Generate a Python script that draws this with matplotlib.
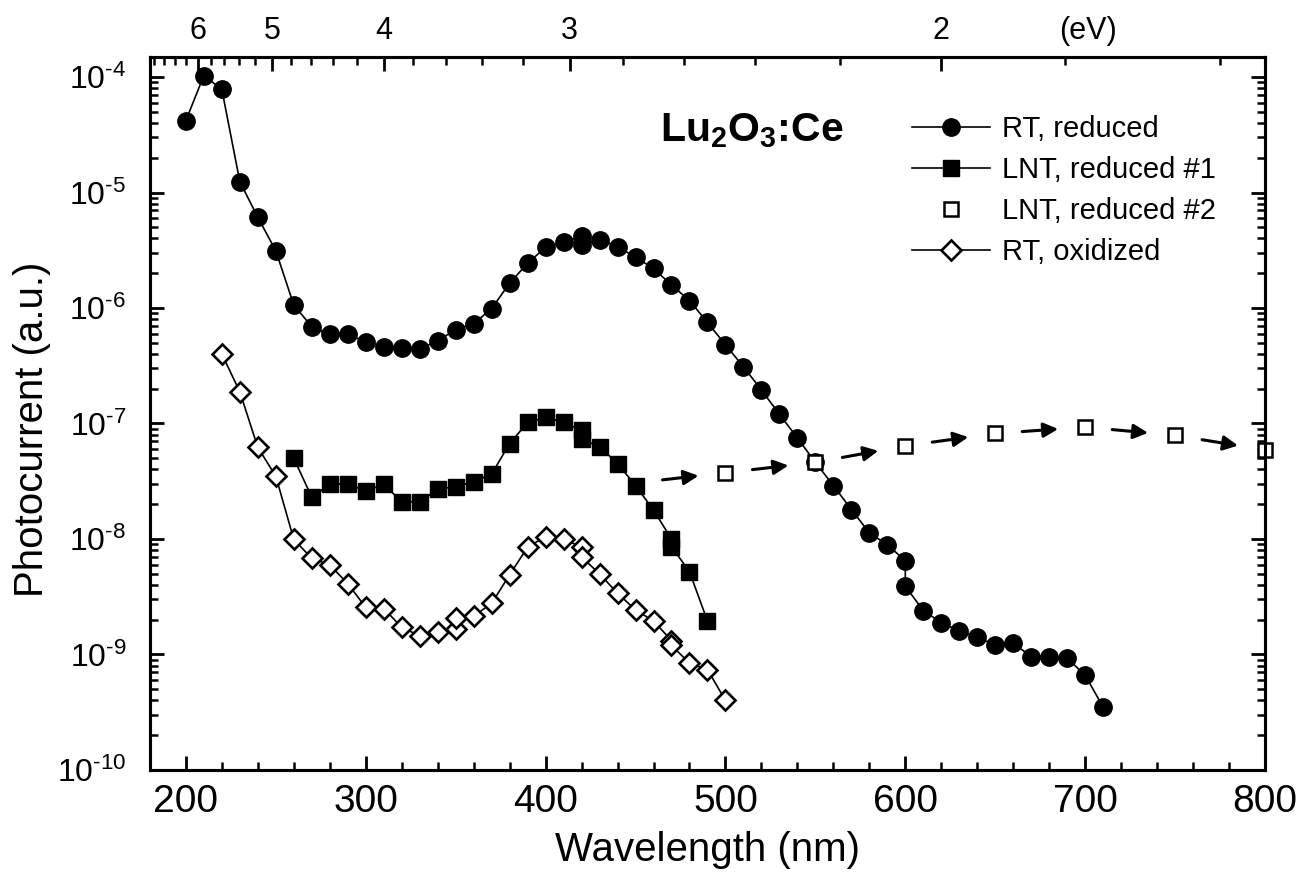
import numpy as np
import matplotlib
matplotlib.use("Agg")
import matplotlib.pyplot as plt
from matplotlib.ticker import FixedLocator, LogLocator, NullFormatter

plt.rcParams['font.family'] = ['Liberation Sans', 'DejaVu Sans']
plt.rcParams['mathtext.fontset'] = 'custom'
plt.rcParams['mathtext.rm'] = 'Liberation Sans'
plt.rcParams['mathtext.it'] = 'Liberation Sans:italic'
plt.rcParams['mathtext.bf'] = 'Liberation Sans:bold'

# RT, reduced (filled circles)
rt_red_wl = [200, 210, 220, 230, 240, 250, 260, 270, 280, 290, 300, 310, 320, 330,
             340, 350, 360, 370, 380, 390, 400, 410, 420, 420, 430, 440, 450, 460,
             470, 480, 490, 500, 510, 520, 530, 540, 550, 560, 570, 580, 590, 600,
             600, 610, 620, 630, 640, 650, 660, 670, 680, 690, 700, 710]
rt_red = [4.2e-5, 1.03e-4, 7.8e-5, 1.24e-5, 6.1e-6, 3.13e-6, 1.06e-6, 6.9e-7, 5.9e-7,
          5.9e-7, 5.1e-7, 4.6e-7, 4.5e-7, 4.4e-7, 5.2e-7, 6.5e-7, 7.3e-7, 9.9e-7,
          1.64e-6, 2.44e-6, 3.35e-6, 3.7e-6, 4.2e-6, 3.5e-6, 3.9e-6, 3.4e-6, 2.75e-6,
          2.2e-6, 1.58e-6, 1.16e-6, 7.5e-7, 4.8e-7, 3.1e-7, 1.95e-7, 1.2e-7, 7.5e-8,
          4.6e-8, 2.9e-8, 1.8e-8, 1.13e-8, 8.9e-9, 6.5e-9, 3.9e-9, 2.4e-9, 1.89e-9,
          1.6e-9, 1.41e-9, 1.21e-9, 1.25e-9, 9.6e-10, 9.6e-10, 9.3e-10, 6.6e-10, 3.5e-10]

# LNT, reduced #1 (filled squares)
lnt1_wl = [260, 270, 280, 290, 300, 310, 320, 330, 340, 350, 360, 370, 380, 390, 400,
           410, 420, 420, 430, 440, 450, 460, 470, 470, 480, 490]
lnt1 = [5.0e-8, 2.3e-8, 2.97e-8, 3.0e-8, 2.6e-8, 2.97e-8, 2.1e-8, 2.1e-8, 2.7e-8,
        2.84e-8, 3.13e-8, 3.65e-8, 6.7e-8, 1.02e-7, 1.13e-7, 1.02e-7, 8.7e-8, 7.3e-8,
        6.3e-8, 4.5e-8, 2.9e-8, 1.78e-8, 1.0e-8, 8.6e-9, 5.2e-9, 1.95e-9]

# LNT, reduced #2 (open squares)
lnt2_wl = [500, 550, 600, 650, 700, 750, 800]
lnt2 = [3.75e-8, 4.6e-8, 6.4e-8, 8.2e-8, 9.3e-8, 7.9e-8, 5.9e-8]

# RT, oxidized (open diamonds)
ox_wl = [220, 230, 240, 250, 260, 270, 280, 290, 300, 310, 320, 330, 340, 350, 350,
         360, 370, 380, 390, 400, 410, 420, 420, 430, 440, 450, 460, 470, 470, 480,
         490, 500]
ox = [4.0e-7, 1.88e-7, 6.2e-8, 3.5e-8, 9.9e-9, 6.8e-9, 5.96e-9, 4.1e-9, 2.56e-9,
      2.5e-9, 1.72e-9, 1.45e-9, 1.58e-9, 1.65e-9, 2.06e-9, 2.15e-9, 2.77e-9, 4.9e-9,
      8.5e-9, 1.05e-8, 1.0e-8, 8.5e-9, 7.0e-9, 4.98e-9, 3.39e-9, 2.43e-9, 1.95e-9,
      1.32e-9, 1.2e-9, 8.4e-10, 7.4e-10, 4.0e-10]

ev_major = [6, 5, 4, 3, 2]
ev_minor = [6.8, 6.6, 6.4, 6.2, 5.8, 5.6, 5.4, 5.2, 4.8, 4.6, 4.4, 4.2, 3.8, 3.6,
            3.4, 3.2, 2.8, 2.6, 2.4, 2.2, 1.8, 1.6]
y_exps = [10, 9, 8, 7, 6, 5, 4]

fig = plt.figure(figsize=(13.15, 8.84), dpi=100)
ax = fig.add_axes([0.114, 0.129, 0.848, 0.8065])

ax.plot(rt_red_wl, rt_red, '-o', color='k', lw=1.2, ms=12.5, label='RT, reduced')
ax.plot(lnt1_wl, lnt1, '-s', color='k', lw=1.2, ms=11, label='LNT, reduced #1')
ax.plot(lnt2_wl, lnt2, 's', color='k', mfc='white', ms=10, mew=1.8,
        label='LNT, reduced #2', clip_on=False, zorder=3)
ax.plot(ox_wl, ox, '-D', color='k', mfc='white', lw=1.2, ms=10, mew=1.9,
        label='RT, oxidized')

# arrows linking the open squares
lx = np.array(lnt2_wl, dtype=float)
ly = np.log10(lnt2)
seg_x = np.concatenate([[2 * lx[0] - lx[1]], lx])
seg_y = np.concatenate([[2 * ly[0] - ly[1]], ly])
for i in range(len(seg_x) - 1):
    x0 = seg_x[i] + 0.3 * (seg_x[i + 1] - seg_x[i])
    x1 = seg_x[i] + 0.7 * (seg_x[i + 1] - seg_x[i])
    y0 = seg_y[i] + 0.3 * (seg_y[i + 1] - seg_y[i])
    y1 = seg_y[i] + 0.7 * (seg_y[i + 1] - seg_y[i])
    ax.annotate('', xy=(x1, 10 ** y1), xytext=(x0, 10 ** y0),
                arrowprops=dict(arrowstyle='-|>', color='k', lw=2.2,
                                mutation_scale=22, shrinkA=0, shrinkB=0))

ax.set_yscale('log')
ax.set_xlim(180, 800)
ax.set_ylim(1e-10, 1.49e-4)
ax.set_xticks([200, 300, 400, 500, 600, 700, 800])
ax.xaxis.set_minor_locator(FixedLocator(np.arange(180, 801, 20)))
ax.yaxis.set_minor_locator(LogLocator(base=10, subs=np.arange(2, 10), numticks=20))
ax.yaxis.set_minor_formatter(NullFormatter())
ax.set_yticks([10.0 ** -k for k in y_exps])
ax.set_yticklabels([r'$10^{\text{-}%d}$' % k for k in y_exps])

for s in ax.spines.values():
    s.set_linewidth(2.2)
ax.tick_params(which='both', direction='in', top=False, right=True, width=2)
ax.tick_params(which='major', length=10)
ax.tick_params(which='minor', length=5.5, width=1.8)
ax.tick_params(axis='x', labelsize=28, pad=10)
ax.tick_params(axis='y', labelsize=23, pad=17)

ax.set_xlabel('Wavelength (nm)', fontsize=29, labelpad=8)
ax.set_ylabel('Photocurrent (a.u.)', fontsize=29)
ax.yaxis.set_label_coords(-0.089, 0.478)

# top energy axis
ax2 = ax.twiny()
ax2.set_xlim(ax.get_xlim())
ax2.set_xticks([1240.0 / e for e in ev_major])
ax2.set_xticklabels([str(e) for e in ev_major])
ax2.xaxis.set_minor_locator(FixedLocator([1240.0 / e for e in ev_minor]))
ax2.tick_params(which='both', direction='in', width=2, labelsize=22, pad=8)
ax2.tick_params(which='major', length=10)
ax2.tick_params(which='minor', length=5.5, width=1.8)
for s in ax2.spines.values():
    s.set_linewidth(2.2)
ax.annotate('(eV)', xy=(0.841, 1.0), xycoords='axes fraction', xytext=(0, 8),
            textcoords='offset points', ha='center', va='bottom', fontsize=22)

ax.text(0.54, 0.896, r'Lu$_\mathbf{2}$O$_\mathbf{3}$:Ce', transform=ax.transAxes,
        fontsize=29.5, fontweight='bold', ha='center', va='center')

ax.legend(loc='upper left', bbox_to_anchor=(0.683, 0.919), frameon=False,
          fontsize=21, borderpad=0, handlelength=2.7, handletextpad=0.4,
          labelspacing=0.45, borderaxespad=0)

fig.savefig('out.png', dpi=100)
